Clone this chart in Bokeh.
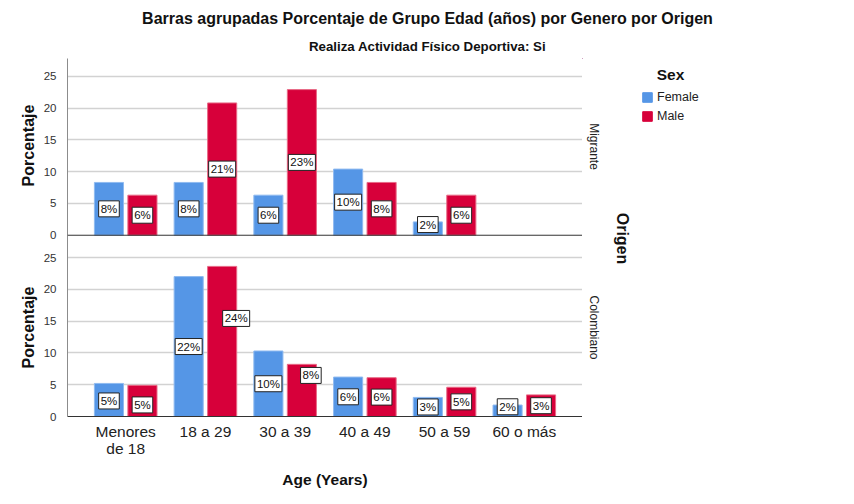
import math
from bokeh.plotting import figure
from bokeh.layouts import column, row
from bokeh.models import (Range1d, FixedTicker, CustomJSTickFormatter, Span, Label,
                          ColumnDataSource, Legend, LegendItem)
from bokeh.core.properties import value
from bokeh.embed import file_html
from bokeh.resources import INLINE

# ---------------- data ----------------
categories = ["Menores\nde 18", "18 a 29", "30 a 39", "40 a 49", "50 a 59", "60 o más"]
migrante_female = [8.3, 8.3, 6.3, 10.4, 2.1, None]
migrante_male = [6.3, 20.8, 22.9, 8.3, 6.3, None]
colombiano_female = [5.2, 22.0, 10.3, 6.2, 3.0, 1.8]
colombiano_male = [4.9, 23.6, 8.2, 6.1, 4.6, 3.4]
y_ticks = [0, 5, 10, 15, 20, 25]
series_names = ["Female", "Male"]
panel_names = ["Migrante", "Colombiano"]
title_text = "Barras agrupadas Porcentaje de Grupo Edad (años) por Genero por Origen"
subtitle_text = "Realiza Actividad Físico Deportiva: Si"
y_title = "Porcentaje"
x_title = "Age (Years)"
facet_title = "Origen"
legend_title = "Sex"

# ---------------- style / layout ----------------
FONT = "Liberation Sans"
C_FEMALE = "#5596E6"
C_MALE = "#D7003A"
W, H = 854, 504
TOP_H = 58                     # height of the title strip
LEFT_W = 40                    # strip holding the y titles
FL, FR, FB = 67, 582, 416      # frame edges (page pixels)
X0, X1 = -0.73, 5.73
PX_PER_Y = 6.36
Y1 = (FB - TOP_H) / PX_PER_Y
OFFSET = 28.5                  # vertical shift of the upper panel
DODGE = 0.21
BAR_W = 0.365

# label nudges in pixels (dx, dy up)
nudge_mig_f = [(0, 0), (0, 0), (0, 0), (0, 0), (0, 4), (0, 0)]
nudge_mig_m = [(0, 0), (0, 0), (0, 0), (0, 0), (0, 0), (0, 0)]
nudge_col_f = [(0, -1), (0, 0), (0, 0), (0, 0), (0, 0), (0, 4)]
nudge_col_m = [(0, -4), (14, 23), (9, 15), (0, 0), (0, 0), (0, 0)]


def blank(width, height, x0, x1, ytop, ybottom, border_bottom=0):
    f = figure(width=width, height=height, output_backend="svg", toolbar_location=None,
               x_range=Range1d(x0, x1), y_range=Range1d(ybottom, ytop),
               x_axis_type=None, y_axis_type=None,
               min_border_left=0, min_border_right=0, min_border_top=0,
               min_border_bottom=border_bottom)
    f.outline_line_color = None
    f.grid.visible = False
    return f


def add_text(f, text, px, py, size, bold=False, angle=0.0, color="#111111"):
    f.add_layout(Label(x=px, y=py, text=text, angle=angle,
                       text_align="center", text_baseline="middle",
                       text_font=FONT, text_font_size=size,
                       text_font_style="bold" if bold else "normal",
                       text_color=color))


# ---------------- title strip ----------------
top = blank(W, TOP_H, 0, W, 0, TOP_H)
add_text(top, title_text, 427, 18, "16px", bold=True)
add_text(top, subtitle_text, 427, 46, "13.3px", bold=True)

# ---------------- left strip (frame aligned with main frame) ----------------
left = blank(LEFT_W, H - TOP_H, 0, LEFT_W, TOP_H, FB, border_bottom=H - FB)
add_text(left, y_title, 28, 145, "16px", bold=True, angle=math.pi / 2)
add_text(left, y_title, 28, 327, "16px", bold=True, angle=math.pi / 2)

# ---------------- main plot ----------------
p = figure(width=FR - LEFT_W, height=H - TOP_H, output_backend="svg", toolbar_location=None,
           x_range=Range1d(X0, X1), y_range=Range1d(0, Y1),
           min_border_left=FL - LEFT_W, min_border_right=0,
           min_border_top=0, min_border_bottom=H - FB)
p.outline_line_color = None


def build(vals, base, sign, nudges):
    xs, bottoms, tops, ly, lbl, dx, dy = [], [], [], [], [], [], []
    for i, v in enumerate(vals):
        if v is None:
            continue
        xs.append(i + sign * DODGE)
        bottoms.append(base)
        tops.append(base + v)
        ly.append(base + v / 2.0)
        lbl.append("%d%%" % int(round(v)))
        dx.append(nudges[i][0])
        dy.append(-nudges[i][1])
    return dict(x=xs, bottom=bottoms, top=tops, ly=ly, label=lbl, dx=dx, dy=dy)


def merge(a, b):
    return {k: a[k] + b[k] for k in a}


src_f = ColumnDataSource(merge(build(migrante_female, OFFSET, -1, nudge_mig_f),
                               build(colombiano_female, 0, -1, nudge_col_f)))
src_m = ColumnDataSource(merge(build(migrante_male, OFFSET, 1, nudge_mig_m),
                               build(colombiano_male, 0, 1, nudge_col_m)))

p.xgrid.visible = False
p.ygrid.ticker = FixedTicker(ticks=[t for t in y_ticks if t > 0] +
                             [t + OFFSET for t in y_ticks if t > 0])
p.ygrid.grid_line_color = "#d2d2d2"
p.ygrid.grid_line_width = 1.5

p.vbar(x="x", bottom="bottom", top="top", width=BAR_W, source=src_f,
       fill_color=C_FEMALE, line_color="#8fbaf0", line_width=1)
p.vbar(x="x", bottom="bottom", top="top", width=BAR_W, source=src_m,
       fill_color=C_MALE, line_color="#e86a86", line_width=1)

for src in (src_f, src_m):
    p.text(x="x", y="ly", text="label", source=src, x_offset="dx", y_offset="dy",
           text_align="center", text_baseline="middle",
           text_font=value(FONT), text_font_size="11.5px", text_color="#111111",
           background_fill_color="white", border_line_color="#222222",
           border_line_width=1, padding=2)

p.add_layout(Span(location=OFFSET, dimension="width", line_color="#333333", line_width=1))

xa = p.xaxis[0]
xa.ticker = FixedTicker(ticks=list(range(len(categories))))
xa.major_label_overrides = {i: c for i, c in enumerate(categories)}
xa.major_tick_line_color = None
xa.minor_tick_line_color = None
xa.axis_line_color = "#333333"
xa.major_label_text_font = FONT
xa.major_label_text_font_size = "15.5px"
xa.major_label_text_line_height = 1.0
xa.major_label_text_color = "#222222"
xa.major_label_standoff = 0
xa.axis_label = x_title
xa.axis_label_text_font = FONT
xa.axis_label_text_font_style = "bold"
xa.axis_label_text_font_size = "15.5px"
xa.axis_label_text_color = "#111111"
xa.axis_label_standoff = 11

ya = p.yaxis[0]
ya.ticker = FixedTicker(ticks=y_ticks + [t + OFFSET for t in y_ticks])
ya.formatter = CustomJSTickFormatter(args=dict(off=OFFSET),
                                     code="return String(Math.round(tick >= off - 0.01 ? tick - off : tick));")
ya.major_tick_line_color = None
ya.minor_tick_line_color = None
ya.axis_line_color = "#8c8c8c"
ya.major_label_text_font = FONT
ya.major_label_text_font_size = "11.5px"
ya.major_label_text_color = "#333333"
ya.major_label_standoff = 5

# ---------------- right strip (frame aligned with main frame) ----------------
side = blank(W - FR, H - TOP_H, FR, W, TOP_H, FB, border_bottom=H - FB)
add_text(side, panel_names[0], 593, 146, "12px", angle=-math.pi / 2, color="#222222")
add_text(side, panel_names[1], 593, 327, "12px", angle=-math.pi / 2, color="#222222")
add_text(side, facet_title, 622, 238, "16px", bold=True, angle=-math.pi / 2)
add_text(side, legend_title, 670, 74, "15.5px", bold=True)

# legend proxies: zero-size bars placed outside the visible x range
sw_f = side.vbar(x=[0], bottom=[0], top=[0], width=0, fill_color=C_FEMALE, line_color=C_FEMALE)
sw_m = side.vbar(x=[0], bottom=[0], top=[0], width=0, fill_color=C_MALE, line_color=C_MALE)
legend = Legend(items=[LegendItem(label=series_names[0], renderers=[sw_f]),
                       LegendItem(label=series_names[1], renderers=[sw_m])],
                location=(641 - FR, FB - 123))
legend.glyph_width = 12
legend.glyph_height = 12
legend.label_height = 12
legend.spacing = 5
legend.padding = 0
legend.margin = 0
legend.label_standoff = 4
legend.label_text_font = FONT
legend.label_text_font_size = "12.5px"
legend.label_text_color = "#222222"
legend.border_line_color = None
legend.background_fill_alpha = 0
side.add_layout(legend)

layout = column(top, row(left, p, side, spacing=0), spacing=0)
open("out.html", "w").write(file_html(layout, INLINE))
